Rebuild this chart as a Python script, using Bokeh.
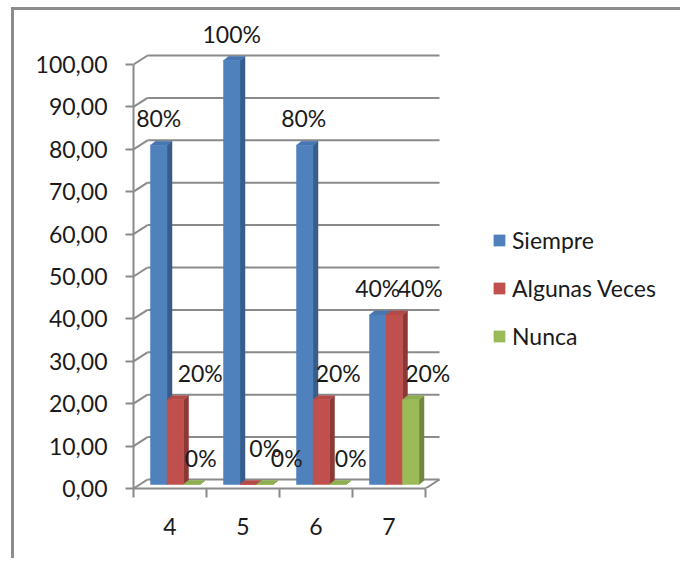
from bokeh.plotting import figure
from bokeh.models import (Range1d, FixedTicker, Legend, LegendItem,
                          ColumnDataSource)
from bokeh.core.properties import value
from bokeh.embed import file_html
from bokeh.resources import INLINE

# ---- data -----------------------------------------------------------------
categories = ["4", "5", "6", "7"]
series_names = ["Siempre", "Algunas Veces", "Nunca"]
siempre = [80, 100, 80, 40]
algunas_veces = [20, 0, 20, 40]
nunca = [0, 0, 0, 20]
y_ticks = [0, 10, 20, 30, 40, 50, 60, 70, 80, 90, 100]
y_tick_labels = ["0,00", "10,00", "20,00", "30,00", "40,00", "50,00",
                 "60,00", "70,00", "80,00", "90,00", "100,00"]

# ---- styling ----------------------------------------------------------------
FONT = "Lato"
FONT_SIZE = "23px"
TEXT_COLOR = "#1a1a1a"
GRID_COLOR = "#8a8a8a"
BORDER_COLOR = "#8c8c8c"
face = ["#4f81bd", "#c0504d", "#9bbb59"]
side = ["#385d8a", "#8c3836", "#71893f"]
top = ["#4675b0", "#b34a47", "#8fae52"]

PX_PER_CAT = 73.0          # horizontal pixels per category
PX_PER_UNIT = 4.24         # vertical pixels per value unit
# depth of the back wall (front plane -> back plane)
WALL_DX = 14.0 / PX_PER_CAT
WALL_DY = 9.0 / PX_PER_UNIT
# bar depth and placement inside the box
BAR_DX = 5.0 / PX_PER_CAT
BAR_DY = 4.0 / PX_PER_UNIT
BAR_BASE = 4.0 / PX_PER_UNIT
BAR_W = 16.5 / PX_PER_CAT
BAR_START = 17.0 / PX_PER_CAT

# label nudges in screen pixels, per series and category
label_dx = [[0, 0, -1, 0], [25, 17, 17, 26], [9, 22, 13, 17]]
label_dy = [[-31, -31, -31, -31], [-31, -41, -31, -31], [-31, -31, -31, -31]]

n_cat = len(categories)

# chart-area border sits at the top-left; the figure lives inside it
BORDER_W = 3
MARGIN_L, MARGIN_T = 11, 7
ox, oy = MARGIN_L + BORDER_W, MARGIN_T + BORDER_W
PAGE_W, PAGE_H = 683, 561
W, H = PAGE_W - ox, PAGE_H - oy

# frame edges in page pixels
frame_left, frame_bottom, frame_top, frame_right = 133, 488, 14, PAGE_W
x_end = (frame_right - frame_left) / PX_PER_CAT
y_end = (frame_bottom - frame_top) / PX_PER_UNIT

p = figure(width=W, height=H, output_backend="svg", toolbar_location=None,
           x_range=Range1d(0, x_end), y_range=Range1d(0, y_end),
           min_border_left=frame_left - ox, min_border_right=0,
           min_border_top=frame_top - oy,
           min_border_bottom=PAGE_H - frame_bottom,
           styles={"border-left": f"{BORDER_W}px solid {BORDER_COLOR}",
                   "border-top": f"{BORDER_W}px solid {BORDER_COLOR}",
                   "margin-left": f"{MARGIN_L}px",
                   "margin-top": f"{MARGIN_T}px"})
p.outline_line_color = None
p.xgrid.visible = False
p.ygrid.visible = False
p.background_fill_color = "white"
p.border_fill_color = "white"

# ---- back wall gridlines with their diagonal connectors ---------------------
p.segment(x0=[WALL_DX] * len(y_ticks), x1=[n_cat + WALL_DX] * len(y_ticks),
          y0=[v + WALL_DY for v in y_ticks], y1=[v + WALL_DY for v in y_ticks],
          line_color=GRID_COLOR, line_width=2)
p.segment(x0=[0] * len(y_ticks), x1=[WALL_DX] * len(y_ticks),
          y0=y_ticks, y1=[v + WALL_DY for v in y_ticks],
          line_color=GRID_COLOR, line_width=2)
# right edge of the floor
p.segment(x0=[n_cat], x1=[n_cat + WALL_DX], y0=[0], y1=[WALL_DY],
          line_color=GRID_COLOR, line_width=2)

# ---- 3D bars ------------------------------------------------------------------
all_series = [siempre, algunas_veces, nunca]
legend_items = []
for k, vals in enumerate(all_series):
    lefts = [i + BAR_START + k * BAR_W for i in range(n_cat)]
    rights = [l + BAR_W for l in lefts]
    bottoms = [BAR_BASE] * n_cat
    tops = [BAR_BASE + v for v in vals]

    side_xs = [[r, r + BAR_DX, r + BAR_DX, r] for r in rights]
    side_ys = [[b, b + BAR_DY, t + BAR_DY, t] for b, t in zip(bottoms, tops)]
    p.patches(side_xs, side_ys, fill_color=side[k], line_color=side[k],
              line_width=0.5)
    top_xs = [[l, l + BAR_DX, r + BAR_DX, r] for l, r in zip(lefts, rights)]
    top_ys = [[t, t + BAR_DY, t + BAR_DY, t] for t in tops]
    p.patches(top_xs, top_ys, fill_color=top[k], line_color=top[k],
              line_width=0.5)
    front = p.quad(left=lefts, right=rights, bottom=bottoms, top=tops,
                   fill_color=face[k], line_color=face[k], line_width=0.5)
    legend_items.append(LegendItem(label=series_names[k], renderers=[front]))

    # value labels
    src = ColumnDataSource(dict(
        x=[(l + r) / 2 for l, r in zip(lefts, rights)],
        y=list(vals),
        txt=["%d%%" % v for v in vals],
        dx=label_dx[k], dy=label_dy[k]))
    p.text(x="x", y="y", text="txt", x_offset="dx", y_offset="dy", source=src,
           text_font=value(FONT), text_font_size=FONT_SIZE,
           text_color=TEXT_COLOR, text_align="center",
           text_baseline="middle")

# ---- axes ---------------------------------------------------------------------
yax = p.yaxis[0]
yax.ticker = FixedTicker(ticks=y_ticks)
yax.bounds = (0, 100)
yax.major_label_overrides = {v: s for v, s in zip(y_ticks, y_tick_labels)}
yax.major_tick_out = 8
yax.major_tick_in = 0
yax.minor_tick_out = 0
yax.minor_tick_in = 0
yax.major_label_standoff = 18
yax.axis_line_color = GRID_COLOR
yax.axis_line_width = 2
yax.major_tick_line_color = GRID_COLOR
yax.major_tick_line_width = 2
yax.major_label_text_font = FONT
yax.major_label_text_font_size = FONT_SIZE
yax.major_label_text_color = TEXT_COLOR

xax = p.xaxis[0]
centers = [i + 0.5 for i in range(n_cat)]
xax.ticker = FixedTicker(ticks=centers, minor_ticks=list(range(n_cat + 1)))
xax.bounds = (0, n_cat)
xax.major_label_overrides = {c: s for c, s in zip(centers, categories)}
xax.major_tick_out = 0
xax.major_tick_in = 0
xax.minor_tick_out = 9
xax.minor_tick_in = 0
xax.minor_tick_line_color = GRID_COLOR
xax.minor_tick_line_width = 2
xax.major_label_standoff = 20
xax.axis_line_color = GRID_COLOR
xax.axis_line_width = 2
xax.major_label_text_font = FONT
xax.major_label_text_font_size = FONT_SIZE
xax.major_label_text_color = TEXT_COLOR

# ---- legend -------------------------------------------------------------------
legend = Legend(items=legend_items, location=(359, 138),
                orientation="vertical", padding=0, margin=0, spacing=20,
                glyph_width=14, glyph_height=14, label_height=28,
                label_standoff=6, background_fill_alpha=0,
                border_line_color=None, label_text_font=FONT,
                label_text_font_size=FONT_SIZE, label_text_color=TEXT_COLOR)
p.add_layout(legend, "center")

open("out.html", "w").write(file_html(p, INLINE))
